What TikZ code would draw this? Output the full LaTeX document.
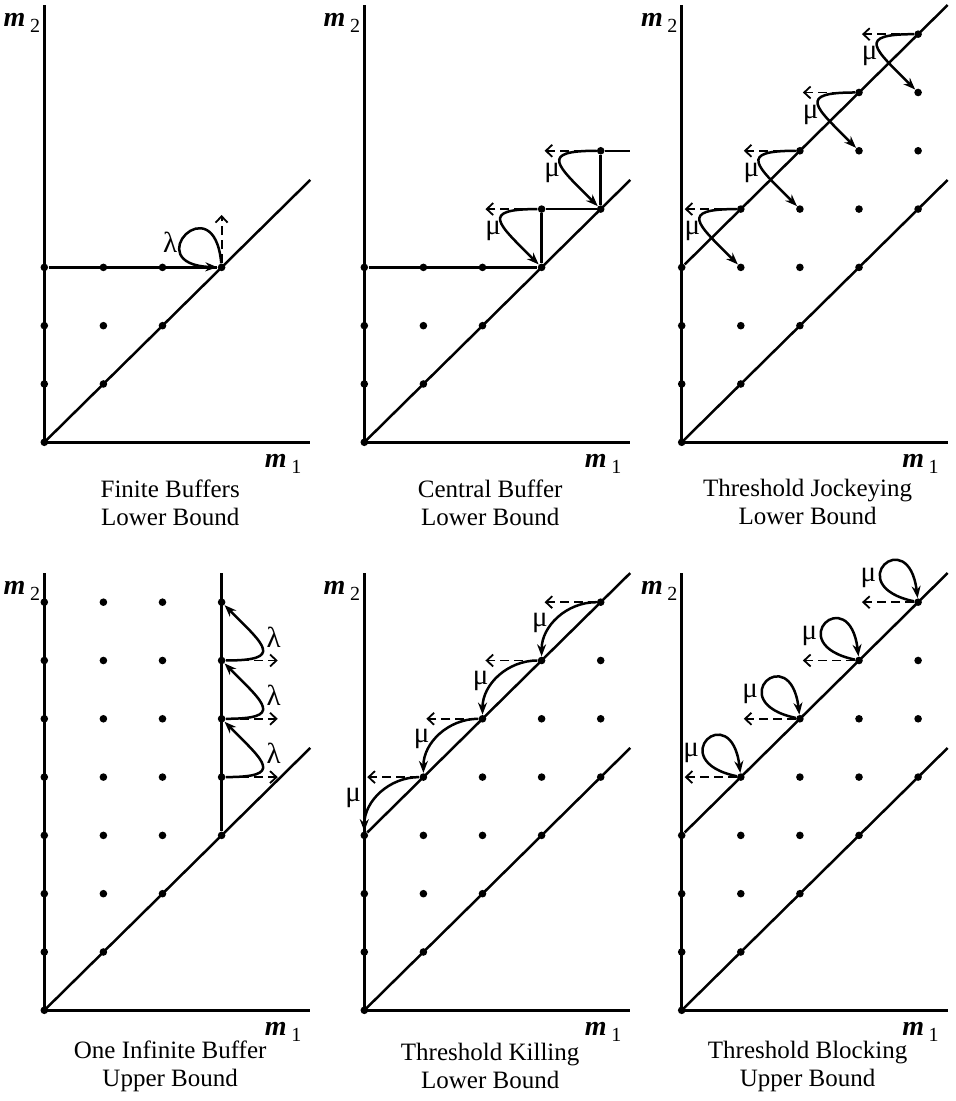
\documentclass[tikz,border=0pt]{standalone}
\usepackage{fontspec}
\setmainfont{Liberation Serif}
\usetikzlibrary{arrows.meta}

\begin{document}
\begin{tikzpicture}[x=29.55pt,y=29.15pt,
  line/.style={line width=1.25pt},
  dot/.style={circle,fill,inner sep=0pt,minimum size=3.8pt},
  dasharr/.style={line width=0.9pt,dash pattern=on 4.5pt off 2.5pt,-{Straight Barb[length=3.2pt,width=6pt]}},
  curvearr/.style={line width=1.25pt,-{Stealth[length=6pt,width=4.5pt]}},
  rate/.style={font=\fontsize{14.5}{16}\selectfont},
  axlabel/.style={font=\fontsize{14}{16}\selectfont},
  paneltitle/.style={align=center,font=\fontsize{12.5}{14}\selectfont}]

\useasboundingbox (0,0) rectangle (477.5pt,550.5pt);

\foreach \px/\py/\ty/\ta/\tb in {22.15/329.35/-1.03/Finite Buffers/Lower Bound,
  182.15/329.35/-1.03/Central Buffer/Lower Bound,
  340.85/329.35/-1.03/Threshold Jockeying/Lower Bound,
  22.15/45.35/-0.96/One Infinite Buffer/Upper Bound,
  182.15/45.35/-0.96/Threshold Killing/Lower Bound,
  340.85/45.35/-0.96/Threshold Blocking/Upper Bound}
{
\begin{scope}[shift={(\px pt,\py pt)}]
\coordinate (O) at (0,0);
\coordinate (ytop) at (0,7.5);
\coordinate (xend) at (4.5,0);
\coordinate (dend) at (4.5,4.5);
\draw[line] (ytop) -- (O) -- (xend);
\draw[line] (O) -- (dend);
\node[axlabel] (mtwo) at (-0.38,7.2) {\textbf{\textit{m}}\,\raisebox{-0.45ex}{\fontsize{10}{11}\selectfont 2}};
\node[axlabel] (mone) at (4.04,-0.37) {\textbf{\textit{m}}\,\raisebox{-0.45ex}{\fontsize{10}{11}\selectfont 1}};
\node[paneltitle] (title) at (2.13,\ty) {\ta\\\tb};
\end{scope}
}

% Finite Buffers
\begin{scope}[shift={(22.15pt,329.35pt)}]
\foreach \x/\y in {0/0,0/1,0/2,0/3,1/1,1/2,1/3,2/2,2/3,3/3}
  \node[dot] (a\x\y) at (\x,\y) {};
\coordinate (aup) at (3,3.9);
\draw[line] (a03) -- (a33);
\draw[dasharr] (a33) -- (aup);
\draw[curvearr] (a33) to[out=95,in=178,distance=40pt] (a33);
\node[rate] (alam) at (2.13,3.43) {λ};
\end{scope}

% Central Buffer
\begin{scope}[shift={(182.15pt,329.35pt)}]
\foreach \x/\y in {0/0,0/1,0/2,0/3,1/1,1/2,1/3,2/2,2/3,3/3,3/4,4/4,4/5}
  \node[dot] (b\x\y) at (\x,\y) {};
\coordinate (bend) at (4.5,5);
\coordinate (bl4) at (2.05,4);
\coordinate (bl5) at (3.05,5);
\draw[line] (b03) -- (b33) -- (b34) -- (b44) -- (b45) -- (bend);
\draw[dasharr] (b34) -- (bl4);
\draw[dasharr] (b45) -- (bl5);
\draw[curvearr] (b34) to[out=180,in=135,distance=29pt] (b33);
\draw[curvearr] (b45) to[out=180,in=135,distance=29pt] (b44);
\node[rate] (bmu4) at (2.18,3.62) {μ};
\node[rate] (bmu5) at (3.18,4.62) {μ};
\end{scope}

% Threshold Jockeying
\begin{scope}[shift={(340.85pt,329.35pt)}]
\foreach \x in {0,...,4}
  \foreach \k in {0,...,3}
  {
    \pgfmathtruncatemacro{\y}{\x+\k}
    \node[dot] (c\x\y) at (\x,\y) {};
  }
\coordinate (cend) at (4.5,7.5);
\draw[line] (c03) -- (cend);
\foreach \x in {1,...,4}
{
  \pgfmathtruncatemacro{\y}{\x+3}
  \pgfmathtruncatemacro{\z}{\x+2}
  \coordinate (cl\x) at (\x-0.95,\y);
  \draw[dasharr] (c\x\y) -- (cl\x);
  \draw[curvearr] (c\x\y) to[out=180,in=135,distance=29pt] (c\x\z);
  \node[rate] (cmu\x) at (\x-0.82,\y-0.38) {μ};
}
\end{scope}

% One Infinite Buffer
\begin{scope}[shift={(22.15pt,45.35pt)}]
\foreach \x in {0,...,3}
  \foreach \y in {\x,...,7}
    \node[dot] (d\x\y) at (\x,\y) {};
\coordinate (dtop) at (3,7.5);
\draw[line] (d33) -- (dtop);
\foreach \y in {4,5,6}
{
  \pgfmathtruncatemacro{\z}{\y+1}
  \coordinate (dr\y) at (3.95,\y);
  \draw[dasharr] (d3\y) -- (dr\y);
  \draw[curvearr] (d3\y) to[out=0,in=-45,distance=29pt] (d3\z);
  \node[rate] (dlam\y) at (3.88,\y+0.4) {λ};
}
\end{scope}

% Threshold Killing
\begin{scope}[shift={(182.15pt,45.35pt)}]
\foreach \x in {0,...,4}
  \foreach \k in {0,...,3}
  {
    \pgfmathtruncatemacro{\y}{\x+\k}
    \node[dot] (e\x\y) at (\x,\y) {};
  }
\coordinate (eend) at (4.5,7.5);
\draw[line] (e03) -- (eend);
\foreach \x in {1,...,4}
{
  \pgfmathtruncatemacro{\y}{\x+3}
  \pgfmathtruncatemacro{\w}{\x-1}
  \pgfmathtruncatemacro{\z}{\x+2}
  \coordinate (el\x) at (\x-0.95,\y);
  \draw[dasharr] (e\x\y) -- (el\x);
  \draw[curvearr] (e\x\y) to[out=180,in=90] (e\w\z);
}
\node[rate] (emu1) at (-0.19,3.65) {μ};
\foreach \x in {2,3,4}
  \node[rate] (emu\x) at (\x-1.03,\x+2.65) {μ};
\end{scope}

% Threshold Blocking
\begin{scope}[shift={(340.85pt,45.35pt)}]
\foreach \x in {0,...,4}
  \foreach \k in {0,...,3}
  {
    \pgfmathtruncatemacro{\y}{\x+\k}
    \node[dot] (f\x\y) at (\x,\y) {};
  }
\coordinate (fend) at (4.5,7.5);
\draw[line] (f03) -- (fend);
\foreach \x in {1,...,4}
{
  \pgfmathtruncatemacro{\y}{\x+3}
  \coordinate (fl\x) at (\x-0.95,\y);
  \draw[dasharr] (f\x\y) -- (fl\x);
  \draw[curvearr] (f\x\y) to[out=168,in=97,distance=38pt] (f\x\y);
  \node[rate] (fmu\x) at (\x-0.84,\y+0.42) {μ};
}
\end{scope}

\end{tikzpicture}
\end{document}
